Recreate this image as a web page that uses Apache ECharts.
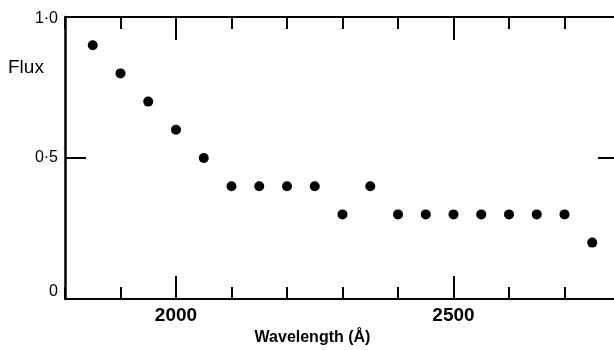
<!DOCTYPE html>
<html>
<head>
<meta charset="utf-8">
<script src="https://cdn.jsdelivr.net/npm/echarts@6/dist/echarts.min.js"></script>
<style>
  html, body { margin: 0; padding: 0; background: #fff; }
  #chart { width: 614px; height: 350px; }
</style>
</head>
<body>
<div id="chart"></div>
<script>
// Data
const wavelengths = [1850, 1900, 1950, 2000, 2050, 2100, 2150, 2200, 2250, 2300,
                     2350, 2400, 2450, 2500, 2550, 2600, 2650, 2700, 2750];
const flux = [0.9, 0.8, 0.7, 0.6, 0.5, 0.4, 0.4, 0.4, 0.4, 0.3,
              0.4, 0.3, 0.3, 0.3, 0.3, 0.3, 0.3, 0.3, 0.2];

const xMajorTicks = [2000, 2500];
const xTickLabels = ['2000', '2500'];
const yTickValues = [0, 0.5, 1];
const yTickLabels = ['0', '0·5', '1·0'];

const xAxisName = 'Wavelength (Å)';
const yAxisName = 'Flux';

const points = wavelengths.map((w, i) => [w, flux[i]]);

const FONT = '"Liberation Sans", Arial, sans-serif';
const INK = '#000';

const gridBox = { left: 65, width: 555, top: 17, bottom: 51, outerBoundsMode: 'none', containLabel: false };

function yLabel(v) {
  const idx = yTickValues.findIndex(t => Math.abs(t - v) < 1e-9);
  if (idx < 0) return '';
  if (v === 0) return '{z|' + yTickLabels[idx] + '}';
  if (v === 1) return '{o|' + yTickLabels[idx] + '}';
  return yTickLabels[idx];
}
function xLabel(v) {
  const idx = xMajorTicks.indexOf(v);
  return idx < 0 ? '' : xTickLabels[idx];
}

const chart = echarts.init(document.getElementById('chart'), null, { renderer: 'canvas' });

const minorXAxis = (pos) => ({
  type: 'value', gridIndex: 0, position: pos,
  min: 1800, max: 2800, interval: 100,
  axisLine: { show: true, onZero: false, lineStyle: { color: INK, width: 2 } },
  axisTick: { show: true, inside: true, length: 12, lineStyle: { color: INK, width: 2 } },
  axisLabel: { show: false },
  splitLine: { show: false }
});
const majorXAxis = (pos, withLabels) => ({
  type: 'value', gridIndex: 1, position: pos,
  min: 1800, max: 2800,
  axisLine: { show: false, onZero: false },
  axisTick: { show: true, inside: true, length: 23, customValues: xMajorTicks,
              lineStyle: { color: INK, width: 2 } },
  axisLabel: withLabels ? {
    show: true, customValues: xMajorTicks, formatter: xLabel,
    color: INK, fontFamily: FONT, fontSize: 19, fontWeight: 'bold', margin: 7
  } : { show: false },
  splitLine: { show: false },
  name: withLabels ? xAxisName : '',
  nameLocation: 'middle',
  nameGap: 26,
  nameTextStyle: { color: INK, fontFamily: FONT, fontSize: 16, fontWeight: 'bold',
                   padding: [0, 60, 0, 0] }
});

chart.setOption({
  backgroundColor: '#fff',
  animation: false,
  title: {
    text: yAxisName, left: 8, top: 58, padding: 0,
    textStyle: { color: INK, fontFamily: FONT, fontSize: 19, fontWeight: 'normal' }
  },
  grid: [Object.assign({}, gridBox), Object.assign({}, gridBox)],
  xAxis: [
    minorXAxis('bottom'),
    minorXAxis('top'),
    majorXAxis('bottom', true),
    majorXAxis('top', false)
  ],
  yAxis: [
    {
      type: 'value', gridIndex: 0, position: 'left',
      min: 0, max: 1, interval: 0.5,
      axisLine: { show: true, onZero: false, lineStyle: { color: INK, width: 2.5 } },
      axisTick: { show: true, inside: true, length: 21, lineStyle: { color: INK, width: 2 } },
      axisLabel: {
        show: true, formatter: yLabel, color: INK, fontFamily: FONT, fontSize: 16, margin: 7,
        rich: {
          z: { fontFamily: FONT, fontSize: 16, color: INK, padding: [0, 0, 14, 0] },
          o: { fontFamily: FONT, fontSize: 16, color: INK, padding: [4, 0, 0, 0] }
        }
      },
      splitLine: { show: false }
    },
    {
      type: 'value', gridIndex: 0, position: 'right',
      min: 0, max: 1, interval: 0.5,
      axisLine: { show: true, onZero: false, lineStyle: { color: INK, width: 2 } },
      axisTick: { show: true, inside: true, length: 22, lineStyle: { color: INK, width: 2 } },
      axisLabel: { show: false },
      splitLine: { show: false }
    },
    {
      type: 'value', gridIndex: 1, min: 0, max: 1, show: false
    }
  ],
  series: [
    {
      type: 'scatter', xAxisIndex: 0, yAxisIndex: 0,
      data: points, symbol: 'circle', symbolSize: 10,
      itemStyle: { color: INK, opacity: 1 }
    },
    {
      type: 'scatter', xAxisIndex: 2, yAxisIndex: 2, data: [], silent: true
    }
  ]
});
</script>
</body>
</html>
